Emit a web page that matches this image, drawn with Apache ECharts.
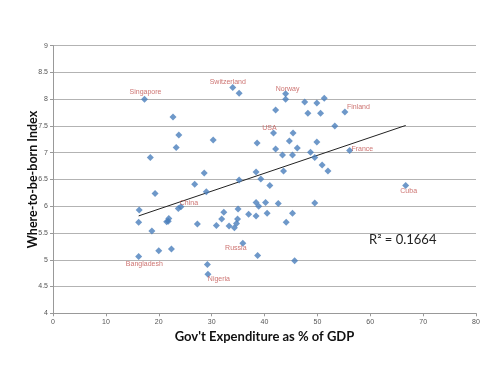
<!DOCTYPE html>
<html><head><meta charset="utf-8">
<script src="https://cdn.jsdelivr.net/npm/echarts@6/dist/echarts.min.js"></script>
<style>html,body{margin:0;padding:0;background:#fff}#c{width:500px;height:375px}</style>
</head><body><div id="c"></div>
<script>
// Labeled countries (first entries of the data arrays)
const countryNames = ['Singapore','Switzerland','Norway','Finland','USA','France','China','Bangladesh','Russia','Nigeria','Cuba'];
// Gov't expenditure as % of GDP
const govExpenditure = [
  17.3, 34.0, 44.0, 55.2, 41.7, 56.1, 24.2, 16.2, 35.9, 29.3, 66.7,
  22.7, 23.8, 30.3, 23.3, 18.4, 28.6, 26.8, 35.2, 44.0, 47.6,
  49.9, 51.3, 42.1, 48.2, 50.6, 53.3, 45.4, 44.7, 49.9, 38.6,
  42.1, 46.2, 43.4, 45.3, 48.7, 49.5, 50.9, 52.0, 38.4, 43.6,
  35.2, 39.3, 41.0, 29.0, 19.3, 23.7, 16.3, 16.2, 21.5, 21.9,
  21.8, 18.7, 27.3, 30.9, 32.3, 31.9, 33.3, 34.3, 34.7, 34.9,
  35.0, 37.0, 38.4, 38.4, 38.9, 40.2, 40.5, 42.6, 44.1, 45.3,
  49.5, 38.7, 45.7, 20.0, 22.4, 29.2
];
// Where-to-be-born index
const whereToBeBorn = [
  8.00, 8.22, 8.10, 7.76, 7.37, 7.04, 5.99, 5.06, 5.31, 4.73, 6.39,
  7.67, 7.33, 7.24, 7.10, 6.91, 6.62, 6.41, 8.11, 8.00, 7.95,
  7.93, 8.02, 7.80, 7.74, 7.74, 7.50, 7.37, 7.22, 7.20, 7.18,
  7.07, 7.09, 6.96, 6.96, 7.01, 6.91, 6.77, 6.66, 6.64, 6.66,
  6.49, 6.51, 6.39, 6.27, 6.24, 5.96, 5.93, 5.70, 5.71, 5.77,
  5.72, 5.54, 5.67, 5.64, 5.89, 5.76, 5.63, 5.60, 5.68, 5.76,
  5.95, 5.85, 5.82, 6.07, 6.00, 6.07, 5.87, 6.05, 5.70, 5.87,
  6.06, 5.08, 4.98, 5.17, 5.20, 4.91
];
// Linear trendline endpoints (as drawn)
const trendX = [16.2, 66.7];
const trendY = [5.82, 7.51];
const rSquaredText = 'R\u00b2 = 0.1664';
const xTitle = "Gov't Expenditure as % of GDP";
const yTitle = 'Where-to-be-born Index';

// label offsets (style)
const labelOffsets = {
  'Singapore':[1,-7],'Switzerland':[-5,-5],'Norway':[2,-5],'Finland':[13.5,-5],
  'USA':[-4,-4.5],'France':[12.7,-1.4],'China':[8,-3.4],'Bangladesh':[5.7,7.4],
  'Russia':[-7,5.3],'Nigeria':[11,4.7],'Cuba':[3,5.4]
};
const S = 7;
const pts = govExpenditure.map((x,i)=>{
  const item = {value:[x, whereToBeBorn[i]]};
  if (i < countryNames.length) {
    const nm = countryNames[i], o = labelOffsets[nm];
    item.label = {show:true, formatter:nm, position:[S/2+o[0], S/2+o[1]],
      align:'center', verticalAlign:'middle', color:'#c0504d', fontSize:7,
      fontFamily:'Liberation Sans'};
  }
  return item;
});

const chart = echarts.init(document.getElementById('c'), null, {renderer:'canvas'});
chart.setOption({
  animation:false,
  backgroundColor:'#fff',
  grid:{left:53, right:24, top:45.7, bottom:61.7},
  xAxis:{type:'value', min:0, max:80, interval:10,
    name:xTitle, nameLocation:'middle', nameGap:17, nameMoveOverlap:false,
    nameTextStyle:{fontSize:13, fontWeight:'bold', color:'#111', fontFamily:'Lato'},
    axisLine:{show:true, lineStyle:{color:'#999'}},
    axisTick:{show:true, length:3, lineStyle:{color:'#999'}},
    axisLabel:{fontSize:7, color:'#555', margin:5, fontFamily:'Liberation Sans'},
    splitLine:{show:false}},
  yAxis:{type:'value', min:4, max:9, interval:0.5,
    name:yTitle, nameLocation:'middle', nameGap:14, nameRotate:90, nameMoveOverlap:false,
    nameTextStyle:{fontSize:12.5, fontWeight:'bold', color:'#111', fontFamily:'Lato'},
    axisLine:{show:true, lineStyle:{color:'#999'}},
    axisTick:{show:true, length:3, lineStyle:{color:'#999'}},
    axisLabel:{fontSize:7, color:'#555', margin:5, fontFamily:'Liberation Sans'},
    splitLine:{show:true, lineStyle:{color:'#b3b3b3', width:1}}},
  series:[
    {type:'line', data:trendX.map((x,i)=>[x,trendY[i]]), symbol:'none',
     lineStyle:{color:'#222', width:1}, z:1, silent:true},
    {type:'scatter', data:pts, symbol:'diamond', symbolSize:S,
     itemStyle:{color:'#4a7ebb'}, z:2}
  ],
  graphic:[{type:'text', left:369, top:233,
    style:{text:rSquaredText, fontSize:13, fill:'#222', fontFamily:'Lato'}}]
});
</script></body></html>
